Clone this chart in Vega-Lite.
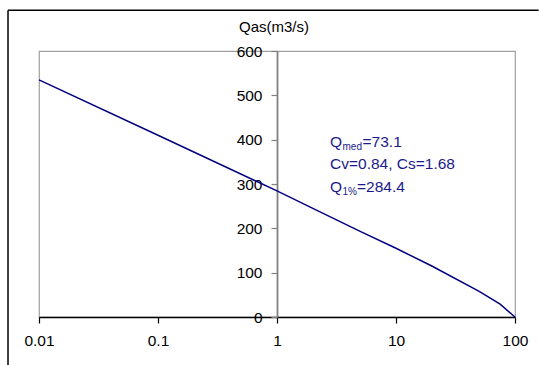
{
  "$schema": "https://vega.github.io/schema/vega-lite/v6.json",
  "width": 476,
  "height": 266,
  "autosize": {"type": "none"},
  "padding": {"left": 39, "top": 51, "right": 24, "bottom": 48},
  "background": "white",
  "config": {
    "view": {"stroke": "#a0a0a0", "strokeWidth": 1.2},
    "font": "Liberation Sans",
    "text": {"font": "Liberation Sans"}
  },
  "layer": [
    {
      "data": {
        "values": [
          {"p": 0.01, "q": 535},
          {"p": 0.1, "q": 410},
          {"p": 1, "q": 284.4},
          {"p": 2, "q": 245},
          {"p": 5, "q": 193},
          {"p": 10, "q": 155},
          {"p": 20, "q": 115},
          {"p": 50, "q": 58},
          {"p": 75, "q": 29},
          {"p": 100, "q": 0}
        ]
      },
      "mark": {"type": "line", "stroke": "#000080", "strokeWidth": 1.5, "clip": false},
      "encoding": {
        "x": {
          "field": "p",
          "type": "quantitative",
          "scale": {"type": "log", "domain": [0.01, 100], "nice": false},
          "axis": {
            "title": null,
            "values": [0.01, 0.1, 1, 10, 100],
            "format": "~g",
            "grid": false,
            "labelFlush": false,
            "labelOverlap": false,
            "domainColor": "#000000",
            "domainWidth": 1.5,
            "tickColor": "#000000",
            "tickWidth": 1.2,
            "tickSize": 6,
            "labelPadding": 10,
            "labelFontSize": 15.5,
            "labelColor": "#000000",
            "labelFont": "Liberation Sans"
          }
        },
        "y": {
          "field": "q",
          "type": "quantitative",
          "scale": {"domain": [0, 600], "nice": false},
          "axis": {
            "title": null,
            "values": [0, 100, 200, 300, 400, 500, 600],
            "offset": -238,
            "grid": false,
            "labelFlush": false,
            "labelOverlap": false,
            "domainColor": "#808080",
            "domainWidth": 1.8,
            "tickColor": "#808080",
            "tickWidth": 1.2,
            "tickSize": 6,
            "labelPadding": 9,
            "labelFontSize": 15.5,
            "labelColor": "#000000",
            "labelFont": "Liberation Sans"
          }
        }
      }
    },
    {
      "data": {"values": [{}]},
      "mark": {"type": "rule", "stroke": "#000000", "strokeWidth": 1.5, "clip": false},
      "encoding": {
        "x": {"datum": 0.00549},
        "x2": {"datum": 158},
        "y": {"datum": 692}
      }
    },
    {
      "data": {"values": [{}]},
      "mark": {"type": "rule", "stroke": "#000000", "strokeWidth": 1.5, "clip": false},
      "encoding": {
        "x": {"datum": 0.00549},
        "y": {"datum": 692},
        "y2": {"datum": -108}
      }
    },
    {
      "data": {"values": [{"label": "Qas(m3/s)"}]},
      "mark": {"type": "text", "fontSize": 15, "align": "center", "baseline": "alphabetic", "dx": -3, "fill": "#000000", "clip": false},
      "encoding": {"x": {"datum": 1}, "y": {"datum": 642}, "text": {"field": "label"}}
    },
    {
      "data": {"values": [{"main": "Q", "sub": "med", "rest": "=73.1"}]},
      "encoding": {"x": {"datum": 2.79}, "y": {"datum": 384}},
      "layer": [
        {"mark": {"type": "text", "fontSize": 15.5, "align": "left", "baseline": "alphabetic", "fill": "#1a1a8c"}, "encoding": {"text": {"field": "main"}}},
        {"mark": {"type": "text", "fontSize": 10, "align": "left", "baseline": "alphabetic", "dx": 12.5, "dy": 3, "fill": "#1a1a8c"}, "encoding": {"text": {"field": "sub"}}},
        {"mark": {"type": "text", "fontSize": 15.5, "align": "left", "baseline": "alphabetic", "dx": 32.5, "fill": "#1a1a8c"}, "encoding": {"text": {"field": "rest"}}}
      ]
    },
    {
      "data": {"values": [{"main": "Cv=0.84, Cs=1.68"}]},
      "mark": {"type": "text", "fontSize": 15.5, "align": "left", "baseline": "alphabetic", "fill": "#1a1a8c"},
      "encoding": {"x": {"datum": 2.79}, "y": {"datum": 334}, "text": {"field": "main"}}
    },
    {
      "data": {"values": [{"main": "Q", "sub": "1%", "rest": "=284.4"}]},
      "encoding": {"x": {"datum": 2.79}, "y": {"datum": 283}},
      "layer": [
        {"mark": {"type": "text", "fontSize": 15.5, "align": "left", "baseline": "alphabetic", "fill": "#1a1a8c"}, "encoding": {"text": {"field": "main"}}},
        {"mark": {"type": "text", "fontSize": 10, "align": "left", "baseline": "alphabetic", "dx": 12.5, "dy": 3, "fill": "#1a1a8c"}, "encoding": {"text": {"field": "sub"}}},
        {"mark": {"type": "text", "fontSize": 15.5, "align": "left", "baseline": "alphabetic", "dx": 27, "fill": "#1a1a8c"}, "encoding": {"text": {"field": "rest"}}}
      ]
    }
  ]
}
